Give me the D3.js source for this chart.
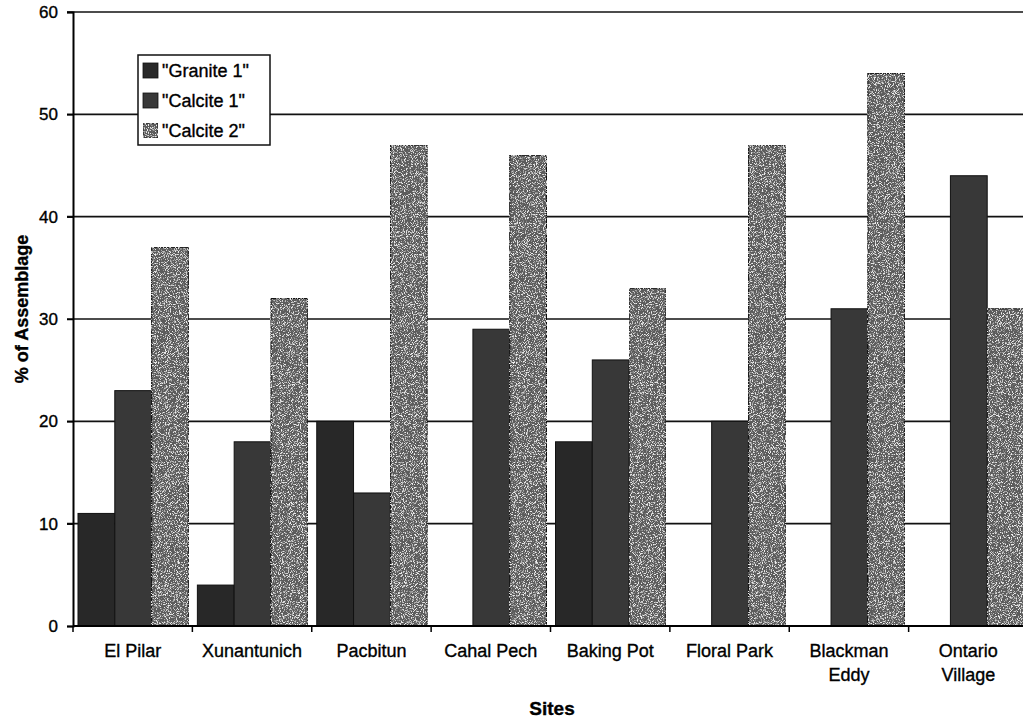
<!DOCTYPE html>
<html>
<head>
<meta charset="utf-8">
<script src="https://cdn.jsdelivr.net/npm/d3@7"></script>
<style>
  body { margin: 0; background: #fff; }
  svg { display: block; font-family: "Liberation Sans", Arial, sans-serif; }
  text { stroke: #000; stroke-width: 0.35px; }
</style>
</head>
<body>
<div id="chart"></div>
<script>
// sites along the x axis (label lines split for the two-line ones)
const sites = ['El Pilar', 'Xunantunich', 'Pacbitun', 'Cahal Pech', 'Baking Pot',
    'Floral Park', 'Blackman Eddy', 'Ontario Village'];
const siteLines = [['El Pilar'], ['Xunantunich'], ['Pacbitun'], ['Cahal Pech'], ['Baking Pot'],
    ['Floral Park'], ['Blackman', 'Eddy'], ['Ontario', 'Village']];

const series = ['"Granite 1"', '"Calcite 1"', '"Calcite 2"'];
const granite1 = [11, 4, 20, 0, 18, 0, 0, 0];
const calcite1 = [23, 18, 13, 29, 26, 20, 31, 44];
const calcite2 = [37, 32, 47, 46, 33, 47, 54, 31];
const yTicks = [0, 10, 20, 30, 40, 50, 60];

const W = 1023, H = 721;
const plotLeft = 73, plotTop = 12, plotBottom = 626;

const svg = d3.select('#chart').append('svg')
    .attr('width', W)
    .attr('height', H);

// plot runs a bit past the right edge of the picture, like the scan
const x = d3.scaleBand().domain(sites).range([plotLeft, 1028]).padding(0);
const x1 = d3.scaleBand().domain(series).range([5, x.bandwidth() - 4]).padding(0);
const y = d3.scaleLinear().domain([0, 60]).range([plotBottom, plotTop]);
const fill = d3.scaleOrdinal().domain(series).range(['#282828', '#383838', '#5c5c5c']);

const values = [granite1, calcite1, calcite2];
const rows = sites.map((s, i) => series.map((k, j) => ({site: s, key: k, value: values[j][i]})));

// grain filter so the fills look a bit like the scanned halftone
const defs = svg.append('defs');
const grain = defs.append('filter').attr('id', 'grain')
    .attr('x', 0).attr('y', 0).attr('width', 1).attr('height', 1);
grain.append('feTurbulence').attr('type', 'fractalNoise')
    .attr('baseFrequency', 1.1).attr('numOctaves', 2).attr('seed', 3).attr('result', 'noise');
grain.append('feColorMatrix').attr('in', 'noise').attr('type', 'matrix')
    .attr('values', '0 0 0 0 0.85  0 0 0 0 0.85  0 0 0 0 0.85  5 0 0 0 -2.55').attr('result', 'dots');
grain.append('feComposite').attr('in', 'dots').attr('in2', 'SourceGraphic')
    .attr('operator', 'in').attr('result', 'speck');
grain.append('feMerge').selectAll('feMergeNode')
    .data(['SourceGraphic', 'speck']).join('feMergeNode').attr('in', d => d);

// gridlines
svg.append('g')
    .selectAll('line')
    .data(yTicks.filter(d => d > 0))
    .join('line')
    .attr('x1', plotLeft - 6)
    .attr('x2', W)
    .attr('y1', d => y(d))
    .attr('y2', d => y(d))
    .attr('stroke', '#111')
    .attr('stroke-width', 1.6);

// bars
svg.append('g')
    .selectAll('g')
    .data(rows)
    .join('g')
    .attr('transform', d => `translate(${x(d[0].site)},0)`)
    .selectAll('rect')
    .data(d => d.filter(v => v.value > 0))
    .join('rect')
    .attr('x', d => x1(d.key))
    .attr('width', x1.bandwidth())
    .attr('y', d => y(d.value))
    .attr('height', d => y(0) - y(d.value))
    .attr('fill', d => fill(d.key))
    .attr('stroke', '#111')
    .attr('stroke-width', 1)
    .attr('filter', d => d.key === series[2] ? 'url(#grain)' : null);

// y axis
const yAxis = svg.append('g').attr('transform', `translate(${plotLeft},0)`)
    .call(d3.axisLeft(y).tickValues(yTicks).tickSize(6).tickPadding(9));
yAxis.select('.domain').attr('stroke', '#000').attr('stroke-width', 2);
yAxis.selectAll('.tick line').attr('stroke', '#000').attr('stroke-width', 1.5);
yAxis.selectAll('.tick text')
    .attr('font-size', 17)
    .attr('font-family', '"Liberation Sans", Arial, sans-serif')
    .attr('fill', '#000');

// x axis baseline and ticks at the category edges
svg.append('line')
    .attr('x1', plotLeft).attr('x2', W)
    .attr('y1', plotBottom).attr('y2', plotBottom)
    .attr('stroke', '#000').attr('stroke-width', 2);
svg.append('g')
    .selectAll('line')
    .data(sites)
    .join('line')
    .attr('x1', d => x(d)).attr('x2', d => x(d))
    .attr('y1', plotBottom).attr('y2', plotBottom + 6)
    .attr('stroke', '#000').attr('stroke-width', 1.5);

svg.append('g')
    .selectAll('text')
    .data(sites)
    .join('text')
    .attr('x', d => x(d) + x.bandwidth() / 2)
    .attr('y', 657)
    .attr('text-anchor', 'middle')
    .attr('font-size', 18)
    .attr('fill', '#000')
    .selectAll('tspan')
    .data((d, i) => siteLines[i])
    .join('tspan')
    .attr('x', function () { return d3.select(this.parentNode).attr('x'); })
    .attr('dy', (d, i) => i === 0 ? 0 : 24)
    .text(d => d);

// axis titles
svg.append('text')
    .attr('x', 552)
    .attr('y', 715)
    .attr('text-anchor', 'middle')
    .attr('font-size', 19)
    .attr('font-weight', 'bold')
    .text('Sites');

svg.append('text')
    .attr('transform', 'translate(28,309) rotate(-90)')
    .attr('text-anchor', 'middle')
    .attr('font-size', 18)
    .attr('font-weight', 'bold')
    .text('% of Assemblage');

// legend
const legend = svg.append('g').attr('transform', 'translate(138,55)');
legend.append('rect')
    .attr('width', 132).attr('height', 90)
    .attr('fill', '#fff').attr('stroke', '#111').attr('stroke-width', 1.5);
const item = legend.selectAll('g.item')
    .data(series)
    .join('g')
    .attr('class', 'item')
    .attr('transform', (d, i) => `translate(5,${8 + i * 30})`);
item.append('rect')
    .attr('width', 15).attr('height', 15)
    .attr('fill', d => fill(d))
    .attr('stroke', '#111')
    .attr('stroke-width', 0.8)
    .attr('filter', d => d === series[2] ? 'url(#grain)' : null);
item.append('text')
    .attr('x', 19).attr('y', 14)
    .attr('font-size', 18)
    .text(d => d);
</script>
</body>
</html>
